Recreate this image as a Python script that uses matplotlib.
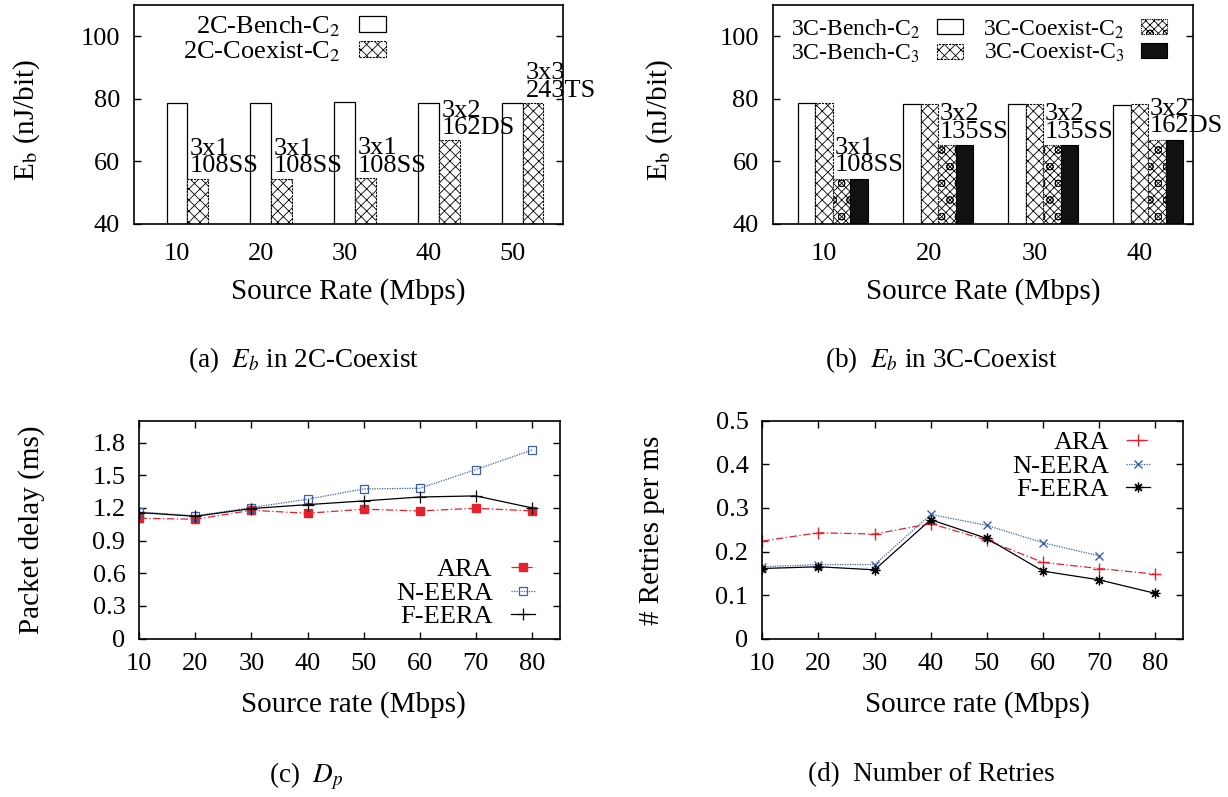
import matplotlib
matplotlib.use('Agg')
import matplotlib.pyplot as plt
import numpy as np

plt.rcParams['font.family'] = ['Liberation Serif', 'DejaVu Serif']
plt.rcParams['mathtext.fontset'] = 'stix'
plt.rcParams['hatch.linewidth'] = 0.6

# ---------------- data ----------------
rates_a = ['10', '20', '30', '40', '50']
bench_2c = [78.8, 78.6, 79.0, 78.7, 78.6]
coexist_2c = [54.5, 54.5, 54.7, 66.8, 78.7]
notes_a = ['3x1\n108SS', '3x1\n108SS', '3x1\n108SS', '3x2\n162DS', '3x3\n243TS']

rates_b = ['10', '20', '30', '40']
bench_3c_c2 = [78.7, 78.4, 78.2, 78.1]
bench_3c_c3 = [78.7, 78.5, 78.3, 78.2]
coexist_3c_c2 = [54.3, 65.1, 65.1, 66.8]
coexist_3c_c3 = [54.3, 65.1, 65.1, 66.8]
notes_b = ['3x1\n108SS', '3x2\n135SS', '3x2\n135SS', '3x2\n162DS']

rates = [10, 20, 30, 40, 50, 60, 70, 80]
delay_ara = [1.105, 1.096, 1.178, 1.151, 1.188, 1.172, 1.197, 1.172]
delay_neera = [1.163, 1.127, 1.203, 1.280, 1.374, 1.380, 1.552, 1.730]
delay_feera = [1.157, 1.123, 1.194, 1.230, 1.264, 1.300, 1.310, 1.200]

rates_n = [10, 20, 30, 40, 50, 60, 70]
retry_ara = [0.224, 0.243, 0.240, 0.264, 0.226, 0.175, 0.161, 0.148]
retry_neera = [0.165, 0.170, 0.170, 0.285, 0.260, 0.220, 0.190]
retry_feera = [0.161, 0.165, 0.158, 0.273, 0.230, 0.155, 0.135, 0.104]

RED = '#e8202a'
BLUE = '#3d5fb0'

fig = plt.figure(figsize=(12.28, 7.97), dpi=100)
W, H = 1228.0, 797.0


def add_axes(l, r, t, b):
    return fig.add_axes([l / W, 1 - b / H, (r - l) / W, (b - t) / H])


axa = add_axes(134, 563, 5, 224)
axb = add_axes(772.7, 1193, 5, 224)
axc = add_axes(139.3, 560, 420.7, 638.7)
axd = add_axes(762.3, 1183.3, 420.7, 638.7)

for ax in (axa, axb, axc, axd):
    for s in ax.spines.values():
        s.set_linewidth(1.2)

# ---------------- (a) ----------------
xa = np.arange(len(rates_a))
wa = 0.245
axa.bar(xa, bench_2c, wa, facecolor='white', edgecolor='black', linewidth=0.9,
        label='2C-Bench-C$_2$')
axa.bar(xa + wa, coexist_2c, wa, facecolor='white', edgecolor='black', linewidth=0.8,
        hatch='xxx', linestyle=(0, (2, 1)), label='2C-Coexist-C$_2$')
for i, (v, t) in enumerate(zip(coexist_2c, notes_a)):
    axa.annotate(t, (xa[i] + wa / 2, v), xytext=(2, 1), textcoords='offset points',
                 ha='left', va='bottom', fontsize=19, linespacing=0.72)
axa.set_xlim(-0.51, 4.6)
axa.set_xticks(xa)
axa.set_xticklabels(rates_a)
axa.set_ylim(40, 110)
axa.set_yticks([40, 60, 80, 100])
axa.tick_params(axis='y', direction='in', right=True, length=5, width=1, labelsize=19, pad=10)
axa.tick_params(axis='x', length=0, labelsize=19, pad=14)
axa.set_ylabel('E$_\\mathrm{b}$ (nJ/bit)', fontsize=21)
axa.yaxis.set_label_coords(-0.215, 0.475)
axa.set_xlabel('Source Rate (Mbps)', fontsize=21)
axa.xaxis.set_label_coords(0.5, -0.245)
axa.legend(loc='center right', bbox_to_anchor=(0.587, 0.845), frameon=False,
           markerfirst=False, fontsize=19, handlelength=1.0, handleheight=0.55,
           handletextpad=0.7, labelspacing=0.0, borderpad=0, borderaxespad=0)

# ---------------- (b) ----------------
xb = np.arange(len(rates_b))
wb = 1 / 6
axb.bar(xb - wb, bench_3c_c2, wb, facecolor='white', edgecolor='black', linewidth=0.9,
        label='3C-Bench-C$_2$')
axb.bar(xb, bench_3c_c3, wb, facecolor='white', edgecolor='black', linewidth=0.8,
        hatch='xxx', linestyle=(0, (2, 1)), label='3C-Bench-C$_3$')
axb.bar(xb + wb, coexist_3c_c2, wb, facecolor='white', edgecolor='black', linewidth=0.8,
        hatch='xxxxo', linestyle=(0, (1, 1)), label='3C-Coexist-C$_2$')
axb.bar(xb + 2 * wb, coexist_3c_c3, wb, facecolor='#111111', edgecolor='black', linewidth=0.8,
        label='3C-Coexist-C$_3$')
for i, (v, t) in enumerate(zip(coexist_3c_c2, notes_b)):
    axb.annotate(t, (xb[i] + wb / 2, v), xytext=(1, 2), textcoords='offset points',
                 ha='left', va='bottom', fontsize=19, linespacing=0.72)
axb.set_xlim(-0.49, 3.51)
axb.set_xticks(xb)
axb.set_xticklabels(rates_b)
axb.set_ylim(40, 110)
axb.set_yticks([40, 60, 80, 100])
axb.tick_params(axis='y', direction='in', right=True, length=5, width=1, labelsize=19, pad=10)
axb.tick_params(axis='x', length=0, labelsize=19, pad=14)
axb.set_ylabel('E$_\\mathrm{b}$ (nJ/bit)', fontsize=21)
axb.yaxis.set_label_coords(-0.232, 0.475)
axb.set_xlabel('Source Rate (Mbps)', fontsize=21)
axb.xaxis.set_label_coords(0.5, -0.245)
axb.legend(loc='center right', bbox_to_anchor=(0.938, 0.835), frameon=False, ncol=2,
           markerfirst=False, fontsize=17, handlelength=1.1, handleheight=0.6,
           handletextpad=0.7, columnspacing=0.85, labelspacing=0.05, borderpad=0,
           borderaxespad=0)

# ---------------- (c) ----------------
axc.plot(rates, delay_ara, color=RED, lw=0.9, ls=(0, (6, 2, 1, 2)), marker='s', ms=5.5,
         mfc=RED, mec=RED, label='ARA')
axc.plot(rates, delay_neera, color=BLUE, lw=0.9, ls=(0, (1, 1)), marker='s', ms=6,
         mfc='none', mec=BLUE, mew=0.9, label='N-EERA')
axc.plot(rates, delay_feera, color='black', lw=0.9, ls='-', marker='+', ms=8, mew=0.9,
         label='F-EERA')
axc.set_xlim(10, 85)
axc.set_ylim(0, 2.0)
axc.set_xticks(rates)
axc.set_yticks([0, 0.3, 0.6, 0.9, 1.2, 1.5, 1.8])
axc.set_yticklabels(['0', '0.3', '0.6', '0.9', '1.2', '1.5', '1.8'])
axc.tick_params(direction='in', top=True, right=True, length=5, width=1, labelsize=19, pad=10)
axc.set_ylabel('Packet delay (ms)', fontsize=21)
axc.yaxis.set_label_coords(-0.224, 0.5)
axc.set_xlabel('Source rate (Mbps)', fontsize=21)
axc.xaxis.set_label_coords(0.51, -0.24)
axc.legend(loc='center right', bbox_to_anchor=(0.9406, 0.2096), frameon=False,
           markerfirst=False, fontsize=19, handlelength=0.9, handletextpad=0.7,
           labelspacing=0.0, borderpad=0, borderaxespad=0)

# ---------------- (d) ----------------
axd.plot(rates, retry_ara, color=RED, lw=0.9, ls=(0, (6, 2, 1, 2)), marker='+', ms=8,
         mew=1.0, label='ARA')
axd.plot(rates_n, retry_neera, color=BLUE, lw=0.9, ls=(0, (1, 1)), marker='x', ms=6,
         mew=1.0, label='N-EERA')
axd.plot(rates, retry_feera, color='black', lw=0.9, ls='-', marker=(8, 2, 0), ms=7,
         mew=0.9, label='F-EERA')
axd.set_xlim(10, 85)
axd.set_ylim(0, 0.5)
axd.set_xticks(rates)
axd.set_yticks([0, 0.1, 0.2, 0.3, 0.4, 0.5])
axd.set_yticklabels(['0', '0.1', '0.2', '0.3', '0.4', '0.5'])
axd.tick_params(direction='in', top=True, right=True, length=5, width=1, labelsize=19, pad=10)
axd.set_ylabel('# Retries per ms', fontsize=21)
axd.yaxis.set_label_coords(-0.231, 0.495)
axd.set_xlabel('Source rate (Mbps)', fontsize=21)
axd.xaxis.set_label_coords(0.51, -0.24)
axd.legend(loc='center right', bbox_to_anchor=(0.921, 0.792), frameon=False,
           markerfirst=False, fontsize=19, handlelength=0.9, handletextpad=0.66,
           labelspacing=0.0, borderpad=0, borderaxespad=0)

# ---------------- captions ----------------
cap_kw = dict(ha='center', va='center', fontsize=19.5)
fig.text(304 / W, 1 - 360 / H, '(a)  $E_b$ in 2C-Coexist', **cap_kw)
fig.text(941 / W, 1 - 360 / H, '(b)  $E_b$ in 3C-Coexist', **cap_kw)
fig.text(306 / W, 1 - 776 / H, '(c)  $D_p$', **cap_kw)
fig.text(931 / W, 1 - 775 / H, '(d)  Number of Retries', **cap_kw)

fig.savefig('out.png', dpi=100)
